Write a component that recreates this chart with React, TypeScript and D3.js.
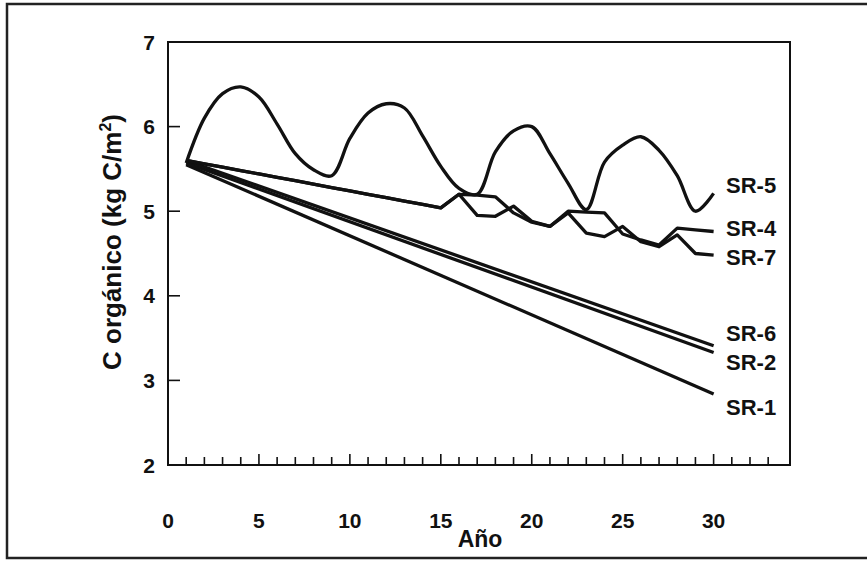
import React, { useRef, useEffect } from 'react';
import * as d3 from 'd3';

// años simulados
const years = d3.range(1, 31);
const lineYears = [1, 30];

// series (kg C/m2)
const sr5 = [5.57, 6.10, 6.39, 6.47, 6.35, 6.03, 5.68, 5.49, 5.42, 5.86,
  6.16, 6.27, 6.22, 5.89, 5.53, 5.27, 5.20, 5.70, 5.95, 6.00,
  5.68, 5.33, 5.02, 5.58, 5.78, 5.88, 5.72, 5.42, 5.00, 5.21];
const sr4 = [5.60, 5.56, 5.52, 5.48, 5.44, 5.40, 5.36, 5.32, 5.28, 5.24,
  5.20, 5.16, 5.12, 5.08, 5.04, 5.20, 5.19, 5.17, 4.98, 4.87,
  4.82, 5.00, 4.99, 4.98, 4.73, 4.66, 4.60, 4.80, 4.78, 4.76];
const sr7 = [5.60, 5.56, 5.52, 5.48, 5.44, 5.40, 5.36, 5.32, 5.28, 5.24,
  5.20, 5.16, 5.12, 5.08, 5.04, 5.20, 4.95, 4.94, 5.06, 4.88,
  4.82, 4.98, 4.74, 4.70, 4.82, 4.64, 4.58, 4.72, 4.50, 4.48];
const sr6 = [5.60, 3.41];
const sr2 = [5.57, 3.33];
const sr1 = [5.55, 2.84];

const xTicks = [0, 5, 10, 15, 20, 25, 30];
const yTicks = [2, 3, 4, 5, 6, 7];

const labels = [
  { name: 'SR-5', y: 185 },
  { name: 'SR-4', y: 228 },
  { name: 'SR-7', y: 257 },
  { name: 'SR-6', y: 333 },
  { name: 'SR-2', y: 362 },
  { name: 'SR-1', y: 407 },
];

const W = 867;
const H = 561;

const App = () => {
  const svgRef = useRef<SVGSVGElement>(null);

  useEffect(() => {
    const svg = d3.select(svgRef.current);
    svg.selectAll('*').remove();

    const left = 168, right = 790, top = 42, bottom = 465;
    const font = '"Liberation Sans", Arial, Helvetica, sans-serif';

    const x = d3.scaleLinear().domain([0, 34.2]).range([left, right]);
    const y = d3.scaleLinear().domain([2, 7]).range([bottom, top]);

    svg.append('rect').attr('width', W).attr('height', H).attr('fill', '#fff');

    // marco exterior
    svg.append('rect')
      .attr('x', 7).attr('y', 4)
      .attr('width', 880).attr('height', 554)
      .attr('fill', 'none').attr('stroke', '#222').attr('stroke-width', 2.5);

    // caja del gráfico
    svg.append('rect')
      .attr('x', left).attr('y', top)
      .attr('width', right - left).attr('height', bottom - top)
      .attr('fill', 'none').attr('stroke', '#111').attr('stroke-width', 2);

    // ticks eje x (hacia dentro)
    svg.append('g')
      .selectAll('line')
      .data(d3.range(1, 34))
      .join('line')
      .attr('x1', d => x(d)).attr('x2', d => x(d))
      .attr('y1', bottom).attr('y2', d => bottom - (d % 5 === 0 ? 11 : 8))
      .attr('stroke', '#111').attr('stroke-width', 1.6);

    svg.append('g')
      .selectAll('text')
      .data(xTicks)
      .join('text')
      .attr('x', d => x(d)).attr('y', 528)
      .attr('text-anchor', 'middle')
      .attr('font-family', font).attr('font-weight', 'bold').attr('font-size', 21)
      .attr('fill', '#111')
      .text(d => d);

    // ticks eje y
    svg.append('g')
      .selectAll('line')
      .data(yTicks.slice(1, -1))
      .join('line')
      .attr('x1', left).attr('x2', left + 12)
      .attr('y1', d => y(d)).attr('y2', d => y(d))
      .attr('stroke', '#111').attr('stroke-width', 1.6);

    svg.append('g')
      .selectAll('text')
      .data(yTicks)
      .join('text')
      .attr('x', 155).attr('y', d => y(d))
      .attr('dy', '0.36em')
      .attr('text-anchor', 'end')
      .attr('font-family', font).attr('font-weight', 'bold').attr('font-size', 21)
      .attr('fill', '#111')
      .text(d => d);

    // títulos de ejes
    svg.append('text')
      .attr('x', 480).attr('y', 547)
      .attr('text-anchor', 'middle')
      .attr('font-family', font).attr('font-weight', 'bold').attr('font-size', 23)
      .attr('fill', '#111')
      .text('Año');

    const yl = svg.append('text')
      .attr('transform', 'translate(121,242) rotate(-90)')
      .attr('text-anchor', 'middle')
      .attr('font-family', font).attr('font-weight', 'bold').attr('font-size', 26)
      .attr('fill', '#111');
    yl.append('tspan').text('C orgánico (kg C/m');
    yl.append('tspan').attr('font-size', 16).attr('dy', -10).text('2');
    yl.append('tspan').attr('dy', 10).text(')');

    const line = d3.line<[number, number]>().x(d => x(d[0])).y(d => y(d[1]));
    const smooth = d3.line<[number, number]>()
      .x(d => x(d[0])).y(d => y(d[1]))
      .curve(d3.curveCatmullRom.alpha(0.5));

    const series: { vals: [number, number][]; curve: typeof line }[] = [
      { vals: lineYears.map((t, i) => [t, sr1[i]]), curve: line },
      { vals: lineYears.map((t, i) => [t, sr2[i]]), curve: line },
      { vals: lineYears.map((t, i) => [t, sr6[i]]), curve: line },
      { vals: years.map((t, i) => [t, sr7[i]]), curve: line },
      { vals: years.map((t, i) => [t, sr4[i]]), curve: line },
      { vals: years.map((t, i) => [t, sr5[i]]), curve: smooth },
    ];

    svg.append('g')
      .selectAll('path')
      .data(series)
      .join('path')
      .attr('d', d => d.curve(d.vals))
      .attr('fill', 'none')
      .attr('stroke', '#111')
      .attr('stroke-width', 3.3)
      .attr('stroke-linejoin', 'round');

    // etiquetas de series
    svg.append('g')
      .selectAll('text')
      .data(labels)
      .join('text')
      .attr('x', 726).attr('y', d => d.y)
      .attr('dy', '0.36em')
      .attr('font-family', font).attr('font-weight', 'bold').attr('font-size', 22)
      .attr('fill', '#111')
      .text(d => d.name);
  }, []);

  return (
    <svg ref={svgRef} width={W} height={H}
      style={{ position: 'absolute', left: 0, top: 0, display: 'block' }} />
  );
};

export default App;
